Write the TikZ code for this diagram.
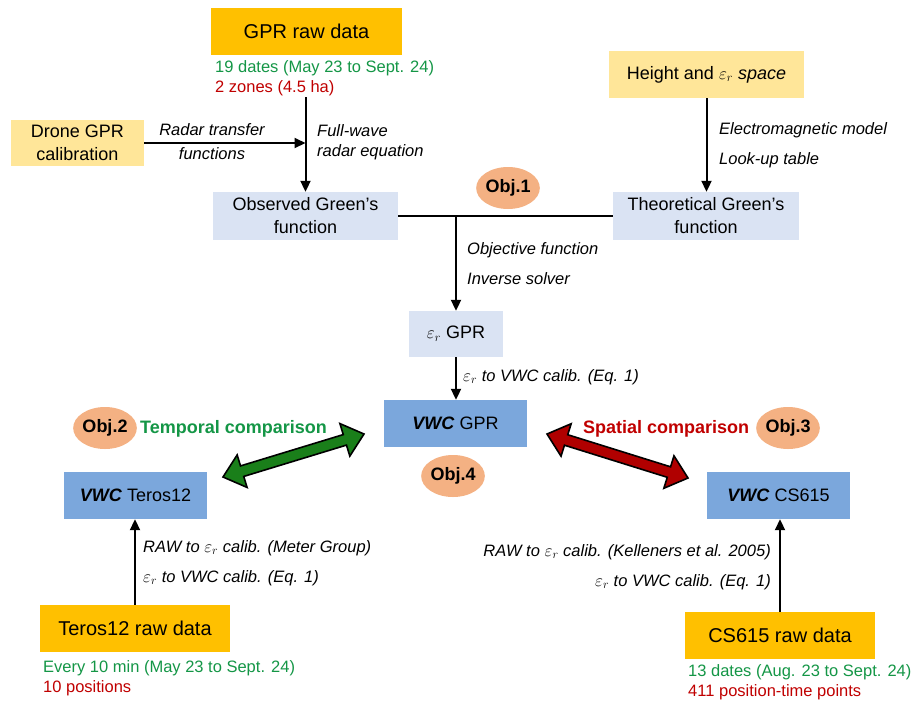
\documentclass[tikz,border=0pt]{standalone}
\usepackage{fontspec}
\setmainfont{Liberation Sans}
\usepackage{xcolor}
\definecolor{gprorange}{HTML}{FFC000}
\definecolor{paleyellow}{HTML}{FFE699}
\definecolor{paleblue}{HTML}{DAE3F3}
\definecolor{vwcblue}{HTML}{7BA7DC}
\definecolor{objpeach}{HTML}{F4B183}
\definecolor{infogreen}{RGB}{20, 150, 70}
\definecolor{infored}{HTML}{C00000}
\definecolor{arrgreen}{HTML}{1A7F1A}
\definecolor{arrred}{HTML}{B00000}
\usepackage{tikz}
\usetikzlibrary{
    shapes.geometric,
    arrows.meta,
    positioning,
    calc
}

% fat double-headed arrow between two named points
\newcommand{\fatdarrow}[3]{%
  \filldraw[fatarrow, fill=#1] let \p1=($(#3)-(#2)$), \n1={atan2(\y1,\x1)} in
    (#2) -- ($(#2)+(\n1:20pt)+(\n1+90:17pt)$) -- ($(#2)+(\n1:20pt)+(\n1+90:5.5pt)$)
    -- ($(#3)+(\n1:-20pt)+(\n1+90:5.5pt)$) -- ($(#3)+(\n1:-20pt)+(\n1+90:17pt)$)
    -- (#3) -- ($(#3)+(\n1:-20pt)+(\n1-90:17pt)$) -- ($(#3)+(\n1:-20pt)+(\n1-90:5.5pt)$)
    -- ($(#2)+(\n1:20pt)+(\n1-90:5.5pt)$) -- ($(#2)+(\n1:20pt)+(\n1-90:17pt)$) -- cycle;}

\begin{document}
\begin{tikzpicture}[
    x=1pt, y=-1pt,
    >={Triangle[length=11pt, width=10pt]},
    box/.style={rectangle, inner sep=0pt, minimum height=47pt, align=center, font=\fontsize{18}{23}\selectfont},
    rawbox/.style={box, fill=gprorange, font=\fontsize{20}{24}\selectfont},
    inbox/.style={box, fill=paleyellow},
    gfbox/.style={box, fill=paleblue},
    vwcbox/.style={box, fill=vwcblue, minimum width=143pt},
    objnode/.style={ellipse, fill=objpeach, minimum width=56pt, minimum height=42pt, inner sep=0pt, font=\fontsize{18}{21}\selectfont\bfseries},
    note/.style={inner sep=0pt, font=\fontsize{16.5}{30}\selectfont\itshape, align=left},
    info/.style={inner sep=0pt, font=\fontsize{16.5}{20}\selectfont, align=left},
    cmp/.style={inner sep=0pt, font=\fontsize{18}{21}\selectfont\bfseries},
    flow/.style={draw=black, line width=2pt, ->},
    fatarrow/.style={draw=black, line width=1.6pt, line join=miter}
]
\useasboundingbox (0,0) rectangle (912,702);

% ==================== GPR BRANCH ====================
\node[rawbox, minimum width=191pt] (gpr_raw) at (306.5,31.5) {GPR raw data};
\node[info, anchor=west] (gpr_info) at (215,78) {
    \textcolor{infogreen}{19 dates (May 23 to Sept. 24)}\\
    \textcolor{infored}{2 zones (4.5 ha)}
};
\coordinate (gpr_down) at (305.5,97);

\node[inbox, minimum width=133pt, minimum height=46pt] (drone) at (77.5,143) {Drone GPR\\calibration};

\node[gfbox, minimum width=185pt, minimum height=48pt] (obs_green) at (305.5,216) {Observed Green's\\function};

\node[note, align=center, font=\fontsize{16.5}{24}\selectfont\itshape] (lbl_transfer) at (212,142) {Radar transfer\\functions};
\node[note, font=\fontsize{16.5}{20}\selectfont\itshape, anchor=west] (lbl_fullwave) at (317,142) {Full-wave\\radar equation};

\draw[flow] (drone) -- (drone -| obs_green);
\draw[flow] (gpr_down) -- (obs_green);

% ==================== MODEL BRANCH ====================
\node[inbox, minimum width=195pt] (height_space) at (706.5,74.5) {Height and $\varepsilon_r$ \textit{space}};
\node[gfbox, minimum width=186pt, minimum height=48pt] (theo_green) at (706,216) {Theoretical Green's\\function};
\node[note, anchor=west] (lbl_model) at (719,145) {Electromagnetic model\\Look-up table};

\draw[flow] (height_space.south) -- (height_space.south |- theo_green.north);

% ==================== INVERSION ====================
\node[objnode] (obj1) at (508,188) {Obj.1};
\node[gfbox, minimum width=94pt, minimum height=46pt] (eps_gpr) at (456,334) {$\varepsilon_r$ GPR};
\node[note, anchor=west] (lbl_inverse) at (467,264) {Objective function\\Inverse solver};

\draw[line width=2pt] (obs_green) -- (theo_green);
\draw[flow] (obs_green.east -| eps_gpr) -- (eps_gpr);

\node[vwcbox] (vwc_gpr) at (455.5,423.5) {\textbf{\textit{VWC}} GPR};
\node[objnode] (obj4) at (453,476) {Obj.4};
\node[note, anchor=west] (lbl_gpr_calib) at (463,377) {$\varepsilon_r$ to VWC calib. (Eq. 1)};

\draw[flow] (eps_gpr.south) -- (eps_gpr.south |- vwc_gpr.north);

% ==================== COMPARISONS ====================
\node[objnode] (obj2) at (105,428) {Obj.2};
\node[cmp, text=infogreen, anchor=west] (temporal) at (140,429) {Temporal comparison};
\node[objnode] (obj3) at (788,428) {Obj.3};
\node[cmp, text=infored, anchor=west] (spatial) at (583,429) {Spatial comparison};

\coordinate (temp_l) at (223,477);
\coordinate (temp_r) at (364,434);
\coordinate (spat_l) at (547,434);
\coordinate (spat_r) at (688,478);
\fatdarrow{arrgreen}{temp_l}{temp_r}
\fatdarrow{arrred}{spat_l}{spat_r}

% ==================== TEROS12 ====================
\node[vwcbox] (vwc_teros) at (135.5,495.5) {\textbf{\textit{VWC}} Teros12};
\node[rawbox, minimum width=190pt] (teros_raw) at (135,628.5) {Teros12 raw data};
\node[info, anchor=west] (teros_info) at (43,678) {
    \textcolor{infogreen}{Every 10 min (May 23 to Sept. 24)}\\
    \textcolor{infored}{10 positions}
};
\node[note, anchor=west] (lbl_teros_calib) at (143,563) {RAW to $\varepsilon_r$ calib. (Meter Group)\\$\varepsilon_r$ to VWC calib. (Eq. 1)};

\draw[flow] (teros_raw.north) -- (teros_raw.north |- vwc_teros.south);

% ==================== CS615 ====================
\node[vwcbox] (vwc_cs) at (778.5,495.5) {\textbf{\textit{VWC}} CS615};
\node[rawbox, minimum width=190pt] (cs_raw) at (780,635.5) {CS615 raw data};
\node[info, anchor=west] (cs_info) at (688,682.5) {
    \textcolor{infogreen}{13 dates (Aug. 23 to Sept. 24)}\\
    \textcolor{infored}{411 position-time points}
};
\node[note, anchor=east, align=right] (lbl_cs_calib) at (771,567) {RAW to $\varepsilon_r$ calib. (Kelleners et al. 2005)\\$\varepsilon_r$ to VWC calib. (Eq. 1)};

\draw[flow] (cs_raw.north) -- (cs_raw.north |- vwc_cs.south);

\end{tikzpicture}
\end{document}
